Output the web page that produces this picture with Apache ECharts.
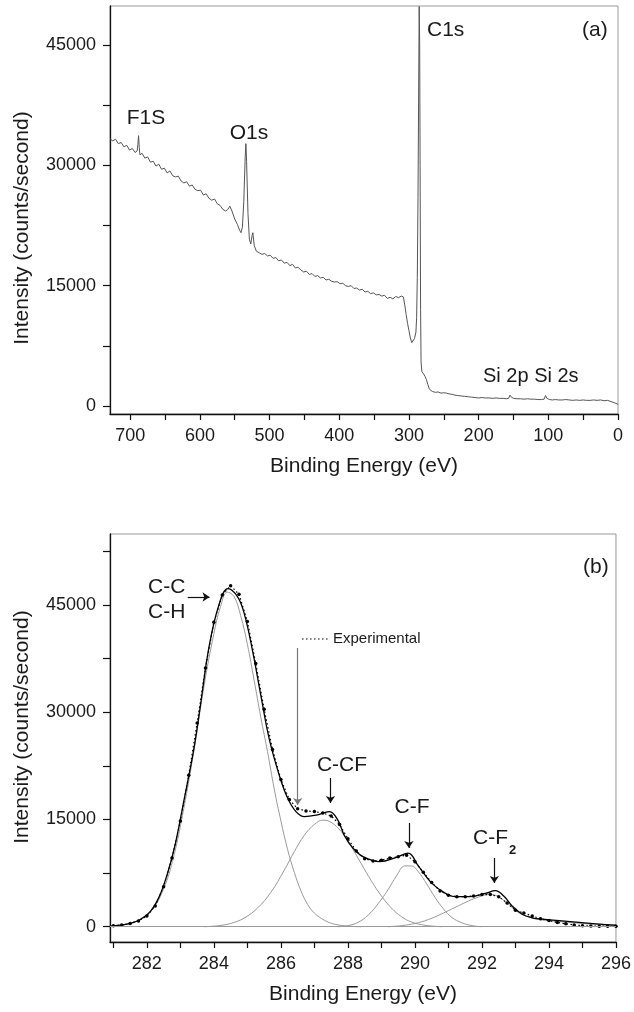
<!DOCTYPE html>
<html>
<head>
<meta charset="utf-8">
<script src="https://cdn.jsdelivr.net/npm/echarts@6/dist/echarts.min.js"></script>
<style>
  html, body { margin: 0; padding: 0; background: #fff; }
  #main { width: 634px; height: 1012px; }
</style>
</head>
<body>
<div id="main"></div>
<script>
// (a) survey spectrum: [binding energy (eV), counts/s]
var surveyData = [
  [729,33300],[725,33050],[721,33250],[717,32700],[713,32850],[709,32300],[705,32500],[701,31900],
  [697,32100],[693,31600],[690,31800],[689,32600],[688,33700],[687,32200],[686,31300],[683,31500],
  [679,30900],[675,31050],[671,30400],[667,30500],[663,29900],[659,30150],[655,29500],[651,29650],
  [647,29050],[643,29300],[639,28700],[635,28550],[631,28650],[627,28050],[623,27800],[619,27950],
  [615,27400],[611,27550],[607,27000],[603,26850],[599,26900],[595,26300],[591,26450],[587,25900],
  [583,25650],[579,25800],[575,25200],[571,25000],[567,24500],[563,24300],[560,24500],[557,24900],
  [554,24300],[550,23300],[546,22600],[543,21900],[541,21600],[539,22300],[537,25500],[535,31000],
  [534,32700],[533,30500],[531,24000],[529,20800],[527,20200],[525,21300],[524,21600],[522,20000],
  [519,19300],[515,19100],[511,18900],[507,19000],[503,18700],[499,18800],[495,18400],[491,18500],
  [487,18100],[483,18200],[479,17800],[475,17900],[471,17500],[467,17650],[463,17200],[459,17300],
  [455,16950],[451,16700],[447,16800],[443,16400],[439,16500],[435,16150],[431,16250],[427,15950],
  [423,16050],[419,15700],[415,15800],[411,15550],[407,15450],[403,15500],[399,15250],[395,15300],
  [391,15000],[387,14900],[383,15000],[379,14650],[375,14700],[371,14450],[367,14550],[363,14200],
  [359,14300],[355,14000],[351,14100],[347,13850],[343,13900],[339,13700],[335,13800],[331,13400],
  [327,13550],[323,13350],[319,13650],[315,13500],[311,13700],[308,13600],[306,12600],[304,11400],
  [302,10300],[300,9400],[298,8500],[296,7900],[294,7800],[292,8400],[290,9200],[289,11000],
  [288,16000],[287,26000],[286,40000],[285.3,49800],[284.6,45000],[284,30000],[283.3,12000],[282.6,5500],
  [281.5,4300],[279,4000],[277,3700],[275,3300],[273,2700],[271,2200],[269,1950],[266,1800],
  [262,1700],[258,1750],[254,1600],[250,1650],[246,1600],[242,1500],[238,1450],[234,1350],
  [230,1300],[225,1250],[220,1200],[215,1150],[210,1100],[205,1050],[200,1000],[195,1050],
  [190,1000],[185,1000],[180,950],[175,1000],[170,950],[165,950],[160,900],[157,950],
  [155,1350],[153,1100],[150,950],[145,900],[140,900],[135,850],[130,900],[125,850],
  [120,850],[115,800],[110,800],[106,850],[104,1300],[102,950],[98,800],[94,750],
  [90,800],[85,750],[80,750],[75,800],[70,750],[65,700],[60,750],[55,700],
  [50,750],[45,700],[40,700],[35,750],[30,700],[25,750],[20,650],[15,700],
  [10,550],[5,400],[0,200]
];
var surveyTicks = [0,50,100,150,200,250,300,350,400,450,500,550,600,650,700];
var surveyLabels = [0,100,200,300,400,500,600,700];
var countTicksA = [0,7500,15000,22500,30000,37500,45000];
var countLabels = [0,15000,30000,45000];

// (b) C1s high resolution
var expEnergy = [
  281.00,281.25,281.50,281.75,282.00,282.25,282.50,282.75,283.00,283.25,283.50,283.75,
  284.00,284.25,284.50,284.75,285.00,285.25,285.50,285.75,286.00,286.25,286.50,286.75,
  287.00,287.25,287.50,287.75,288.00,288.25,288.50,288.75,289.00,289.25,289.50,289.75,
  290.00,290.25,290.50,290.75,291.00,291.25,291.50,291.75,292.00,292.25,292.50,292.75,
  293.00,293.25,293.50,293.75,294.00,294.25,294.50,294.75,295.00,295.25,295.50,295.75,296.00
];
var expCounts = [
  150,250,450,800,1500,2900,5600,9600,14800,21200,28500,36200,
  42600,46400,47700,46500,42700,36800,30400,24800,20600,17800,16500,16200,
  16100,15900,15500,14300,12300,10600,9500,9200,9300,9600,9800,10000,
  9100,7600,6200,5000,4400,4200,4200,4300,4500,4500,4200,3300,
  2300,1900,1500,1100,850,600,400,250,150,100,80,60,50
];
var fitData = [
  [280.9,80],[281.2,220],[281.5,450],[281.8,1000],[282.1,2100],[282.35,4000],[282.6,7200],
  [282.85,11600],[283.1,17500],[283.4,24800],[283.6,31000],[283.85,39000],[284.15,45000],
  [284.42,47300],[284.7,46200],[284.9,43900],[285.15,38700],[285.4,32400],[285.65,26300],
  [285.95,21200],[286.2,18000],[286.45,16100],[286.7,15400],[287.05,15600],[287.45,16100],
  [287.7,14900],[287.9,12700],[288.15,11000],[288.45,9800],[288.95,9100],[289.45,9700],
  [289.8,10300],[290.1,8500],[290.5,6100],[290.9,4700],[291.2,4200],[291.6,4200],[292.1,4650],
  [292.4,5050],[292.65,4300],[292.9,2900],[293.2,1750],[293.5,1250],[293.8,1050],[294.3,850],
  [294.8,650],[295.4,400],[296,200]
];
var peakCC = [
  [280.9,60],[281.3,250],[281.7,750],[282.1,2000],[282.5,5300],[282.8,9800],[283.1,16500],
  [283.4,24500],[283.7,33500],[284.0,41000],[284.2,44800],[284.4,46800],[284.6,46200],
  [284.8,43500],[285.0,39500],[285.2,34500],[285.4,29300],[285.6,24500],[285.8,19300],
  [286.0,14800],[286.2,10800],[286.4,7600],[286.6,5000],[286.8,3100],[287.0,1900],
  [287.3,900],[287.6,350],[288.0,80],[288.4,0]
];
var peakCCF = [
  [283.7,0],[284.1,120],[284.5,450],[284.9,1200],[285.3,2600],[285.7,4800],[286.1,7900],
  [286.4,10500],[286.7,12800],[287.0,14300],[287.25,14900],[287.5,14600],[287.8,13300],
  [288.1,11200],[288.4,8800],[288.7,6400],[289.0,4300],[289.3,2600],[289.6,1400],
  [289.9,650],[290.3,200],[290.8,0]
];
var peakCF = [
  [287.7,0],[288.0,150],[288.3,600],[288.6,1600],[288.9,3200],[289.2,5200],[289.45,7100],
  [289.7,8500],[289.9,8500],[290.1,7700],[290.35,6000],[290.6,4100],[290.85,2500],
  [291.1,1300],[291.4,550],[291.7,150],[292.0,0]
];
var peakCF2 = [
  [289.2,0],[289.6,150],[290.0,450],[290.4,1000],[290.8,1800],[291.2,2700],[291.6,3600],
  [291.9,4150],[292.2,4500],[292.45,4300],[292.7,3500],[292.95,2500],[293.2,1700],
  [293.6,1100],[294.0,850],[294.5,650],[295.0,450],[295.5,300],[296.0,150]
];
var c1sTicks = [281,282,283,284,285,286,287,288,289,290,291,292,293,294,295,296];
var c1sLabels = [282,284,286,288,290,292,294,296];
var countTicksB = [0,7500,15000,22500,30000,37500,45000,52500];

var FONT = '"Liberation Sans", Arial, sans-serif';
var expData = expEnergy.map(function (e, i) { return [e, expCounts[i]]; });
var plain = function (v) { return String(v); };

function xAxisOf(gi, min, max, inverse, ticks, labels) {
  return {
    type: 'value', gridIndex: gi, min: min, max: max, inverse: inverse,
    name: 'Binding Energy (eV)', nameLocation: 'middle', nameGap: 42,
    nameTextStyle: { fontSize: 21, color: '#1a1a1a', fontFamily: FONT },
    axisLine: { show: true, onZero: false, lineStyle: { color: '#111', width: 1.3 } },
    axisTick: { show: true, customValues: ticks, length: 6, lineStyle: { color: '#111', width: 1.2 } },
    axisLabel: { customValues: labels, formatter: plain, fontSize: 18, color: '#1a1a1a', fontFamily: FONT, margin: 13 },
    splitLine: { show: false }
  };
}
function yAxisOf(gi, min, max, ticks, pad) {
  return {
    type: 'value', gridIndex: gi, min: min, max: max,
    name: 'Intensity (counts/second)', nameLocation: 'middle', nameGap: 77,
    nameTextStyle: { fontSize: 21, color: '#1a1a1a', fontFamily: FONT, padding: pad },
    axisLine: { show: true, onZero: false, lineStyle: { color: '#111', width: 1.3 } },
    axisTick: { show: true, customValues: ticks, length: 7, lineStyle: { color: '#111', width: 1.2 } },
    axisLabel: { customValues: countLabels, formatter: plain, fontSize: 18, color: '#1a1a1a', fontFamily: FONT, margin: 14 },
    splitLine: { show: false }
  };
}

var grayLine = { color: '#9a9a9a', width: 1 };
function arrow(x1, y1, x2, y2, color) {
  return [
    { coord: [x1, y1], lineStyle: { color: color, width: 1.2, type: 'solid' } },
    { coord: [x2, y2] }
  ];
}
function component(name, data) {
  return {
    name: name, type: 'line', xAxisIndex: 1, yAxisIndex: 1, data: data,
    symbol: 'none', smooth: 0.4, lineStyle: grayLine
  };
}

var chart = echarts.init(document.getElementById('main'));
var ccSeries = component('C-C', peakCC);
ccSeries.markLine = {
  silent: true, symbol: 'none', label: { show: false },
  lineStyle: { color: '#9a9a9a', width: 1, type: 'solid' },
  data: [{ yAxis: 0 }]
};

chart.setOption({
  animation: false,
  backgroundColor: '#fff',
  textStyle: { fontFamily: FONT },
  grid: [
    { left: 110, top: 6, width: 508, height: 408, show: true, borderColor: '#9a9a9a', borderWidth: 1 },
    { left: 110, top: 534, width: 508, height: 408, show: true, borderColor: '#9a9a9a', borderWidth: 1 }
  ],
  xAxis: [
    xAxisOf(0, 0, 729, true, surveyTicks, surveyLabels),
    xAxisOf(1, 280.9, 296, false, c1sTicks, c1sLabels)
  ],
  yAxis: [
    yAxisOf(0, -1000, 49860, countTicksA, [0, 36, 0, 0]),
    yAxisOf(1, -2140, 54930, countTicksB, [0, 0, 0, 22])
  ],
  series: [
    {
      name: 'Survey', type: 'line', xAxisIndex: 0, yAxisIndex: 0,
      data: surveyData, showSymbol: false, symbol: 'none',
      lineStyle: { color: '#555', width: 1 }
    },
    ccSeries,
    component('C-CF', peakCCF),
    component('C-F', peakCF),
    component('C-F2', peakCF2),
    {
      name: 'Experimental', type: 'line', xAxisIndex: 1, yAxisIndex: 1, data: expData,
      symbol: 'circle', symbolSize: 3.5, showSymbol: true,
      itemStyle: { color: '#000' },
      lineStyle: { color: '#000', width: 1.2, type: [1.5, 2.5] }
    },
    {
      name: 'Fit', type: 'line', xAxisIndex: 1, yAxisIndex: 1, data: fitData,
      symbol: 'none', smooth: 0.4,
      lineStyle: { color: '#000', width: 1.3 },
      markLine: {
        silent: true, symbol: ['none', 'arrow'], symbolSize: 7, label: { show: false },
        data: [
          arrow(283.22, 46120, 283.87, 46120, '#111'),
          arrow(286.5, 38990, 286.5, 17020, '#777'),
          arrow(287.48, 20800, 287.48, 17310, '#111'),
          arrow(289.82, 14510, 289.82, 11010, '#111'),
          arrow(292.37, 9610, 292.37, 6110, '#111')
        ]
      }
    }
  ],
  graphic: [
    { type: 'text', x: 146, y: 118, style: { text: 'F1S', fontSize: 21, fontFamily: FONT, fill: '#1a1a1a', align: 'center', verticalAlign: 'middle' } },
    { type: 'text', x: 249, y: 133, style: { text: 'O1s', fontSize: 21, fontFamily: FONT, fill: '#1a1a1a', align: 'center', verticalAlign: 'middle' } },
    { type: 'text', x: 427, y: 30, style: { text: 'C1s', fontSize: 21, fontFamily: FONT, fill: '#1a1a1a', align: 'left', verticalAlign: 'middle' } },
    { type: 'text', x: 582, y: 30, style: { text: '(a)', fontSize: 21, fontFamily: FONT, fill: '#1a1a1a', align: 'left', verticalAlign: 'middle' } },
    { type: 'text', x: 483, y: 376, style: { text: 'Si 2p Si 2s', fontSize: 20, fontFamily: FONT, fill: '#1a1a1a', align: 'left', verticalAlign: 'middle' } },
    { type: 'text', x: 148, y: 587, style: { text: 'C-C', fontSize: 21, fontFamily: FONT, fill: '#1a1a1a', align: 'left', verticalAlign: 'middle' } },
    { type: 'text', x: 148, y: 612, style: { text: 'C-H', fontSize: 21, fontFamily: FONT, fill: '#1a1a1a', align: 'left', verticalAlign: 'middle' } },
    { type: 'line', shape: { x1: 302, y1: 639, x2: 328, y2: 639 }, style: { stroke: '#000', lineWidth: 1.2, lineDash: [1.5, 2.5] } },
    { type: 'text', x: 333, y: 639, style: { text: 'Experimental', fontSize: 15, fontFamily: FONT, fill: '#1a1a1a', align: 'left', verticalAlign: 'middle' } },
    { type: 'text', x: 342, y: 765, style: { text: 'C-CF', fontSize: 21, fontFamily: FONT, fill: '#1a1a1a', align: 'center', verticalAlign: 'middle' } },
    { type: 'text', x: 412, y: 807, style: { text: 'C-F', fontSize: 21, fontFamily: FONT, fill: '#1a1a1a', align: 'center', verticalAlign: 'middle' } },
    { type: 'text', x: 473, y: 838, style: { text: 'C-F', fontSize: 21, fontFamily: FONT, fill: '#1a1a1a', align: 'left', verticalAlign: 'middle' } },
    { type: 'text', x: 509, y: 850, style: { text: '2', fontSize: 13, fontFamily: FONT, fill: '#1a1a1a', align: 'left', verticalAlign: 'middle', fontWeight: 'bold' } },
    { type: 'text', x: 583, y: 567, style: { text: '(b)', fontSize: 21, fontFamily: FONT, fill: '#1a1a1a', align: 'left', verticalAlign: 'middle' } }
  ]
});
</script>
</body>
</html>
